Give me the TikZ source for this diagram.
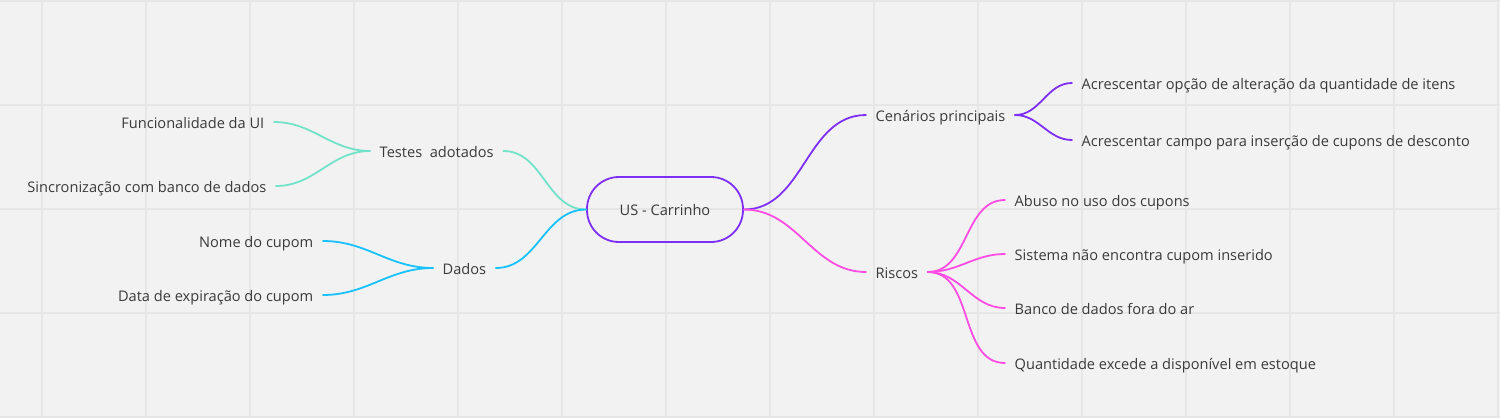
\documentclass[tikz,border=0pt]{standalone}
\usepackage{fontspec}
\setmainfont{Open Sans}
\definecolor{bg}{HTML}{F2F2F2}
\definecolor{gridc}{HTML}{E6E6E6}
\definecolor{txtc}{HTML}{3A3A3A}
\definecolor{tealc}{HTML}{72E2CA}
\definecolor{bluec}{HTML}{17C2FF}
\definecolor{purplec}{HTML}{7E2FF5}
\definecolor{pinkc}{HTML}{FF4DE4}
\tikzset{
  lbl/.style={font=\fontsize{14.6}{17}\selectfont, text=txtc, inner xsep=9.5pt, inner ysep=2pt, text height=12pt, text depth=0pt},
  link/.style={line width=1.8pt, line cap=round},
  rlink/.style={link, out=0, in=180},
  llink/.style={link, out=180, in=0},
  rootbox/.style={draw=purplec, line width=1.8pt, rounded corners=32pt, minimum width=156pt, minimum height=65pt, font=\fontsize{14.6}{17}\selectfont, text=txtc, text height=12pt, text depth=0pt}
}
\begin{document}
\begin{tikzpicture}[x=1pt,y=-1pt]
\useasboundingbox (0,0) rectangle (1500,418);
\fill[bg] (0,0) rectangle (1500,418);
\foreach \gx in {42,146,...,1498} \draw[gridc, line width=1.5pt] (\gx,0) -- (\gx,418);
\foreach \gy in {1,105,209,313,417} \draw[gridc, line width=1.5pt] (0,\gy) -- (1500,\gy);

% root
\node[rootbox] (root) at (665,209.5) {US - Carrinho};

% left side
\node[lbl, anchor=west] (testes) at (370,151) {Testes~ adotados};
\node[lbl, anchor=east] (fui) at (274,122) {Funcionalidade da UI};
\node[lbl, anchor=east] (sinc) at (276,186) {Sincronização com banco de dados};
\node[lbl, anchor=west] (dados) at (433,268) {Dados};
\node[lbl, anchor=east] (nome) at (323,241) {Nome do cupom};
\node[lbl, anchor=east] (data) at (323,295) {Data de expiração do cupom};

% right side
\node[lbl, anchor=west] (cen) at (866,115) {Cenários principais};
\node[lbl, anchor=west] (op1) at (1072,83) {Acrescentar opção de alteração da quantidade de itens};
\node[lbl, anchor=west] (op2) at (1072,140) {Acrescentar campo para inserção de cupons de desconto};
\node[lbl, anchor=west] (ris) at (866,272) {Riscos};
\node[lbl, anchor=west] (r1) at (1005,200) {Abuso no uso dos cupons};
\node[lbl, anchor=west] (r2) at (1005,254) {Sistema não encontra cupom inserido};
\node[lbl, anchor=west] (r3) at (1005,308) {Banco de dados fora do ar};
\node[lbl, anchor=west] (r4) at (1005,363) {Quantidade excede a disponível em estoque};

% connectors
\draw[tealc, llink] (root.west) to (testes.east);
\draw[tealc, llink] (testes.west) to (fui.east);
\draw[tealc, llink] (testes.west) to (sinc.east);
\draw[bluec, llink] (root.west) to (dados.east);
\draw[bluec, llink] (dados.west) to (nome.east);
\draw[bluec, llink] (dados.west) to (data.east);

\draw[purplec, rlink] (root.east) to (cen.west);
\draw[purplec, rlink] (cen.east) to (op1.west);
\draw[purplec, rlink] (cen.east) to (op2.west);
\draw[pinkc, rlink] (root.east) to (ris.west);
\draw[pinkc, rlink] (ris.east) to (r1.west);
\draw[pinkc, rlink] (ris.east) to (r2.west);
\draw[pinkc, rlink] (ris.east) to (r3.west);
\draw[pinkc, rlink] (ris.east) to (r4.west);
\end{tikzpicture}
\end{document}
